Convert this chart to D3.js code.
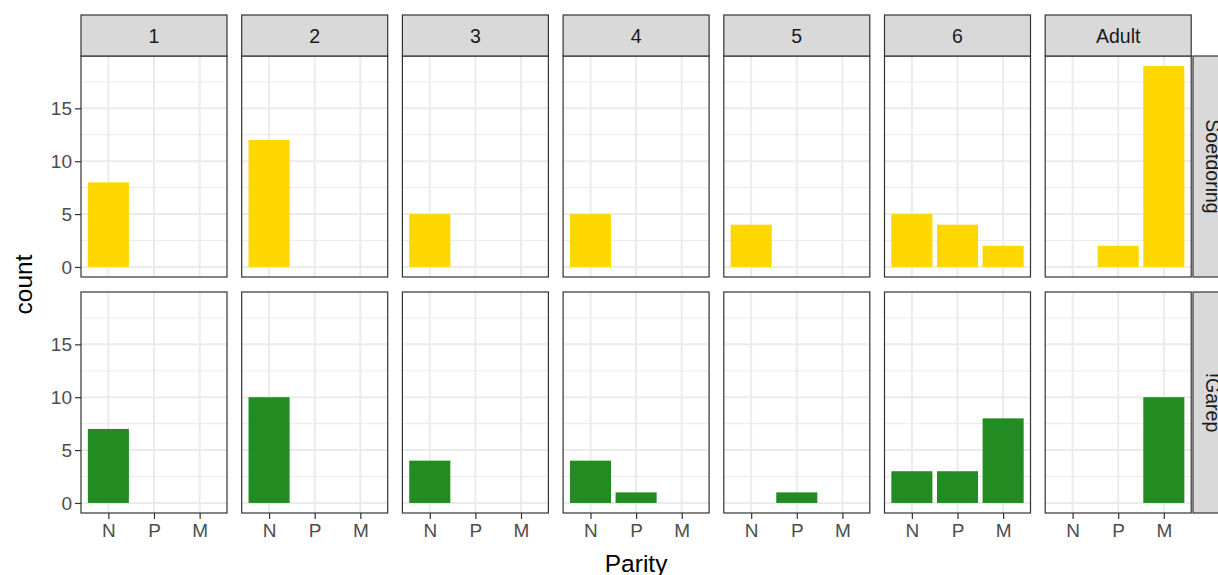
<!DOCTYPE html>
<html><head><meta charset="utf-8">
<script src="https://cdn.jsdelivr.net/npm/d3@7"></script>
<style>body{margin:0;background:#fff;} svg{display:block;font-family:"Liberation Sans",Arial,sans-serif;}</style>
</head><body>
<svg id="c" width="1218" height="575"></svg>
<script>
const ages = ["1","2","3","4","5","6","Adult"];
const sites = ["Soetdoring","!Garep"];
const parity = ["N","P","M"];
const siteColors = ["#FFD700","#228B22"];
// counts[site][age] = [N,P,M]
const soetdoring = [[8,0,0],[12,0,0],[5,0,0],[5,0,0],[4,0,0],[5,4,2],[0,2,19]];
const garep = [[7,0,0],[10,0,0],[4,0,0],[4,1,0],[0,1,0],[3,3,8],[0,0,10]];
const counts = [soetdoring, garep];
const yTicks = [0,5,10,15];
const yMinor = [2.5,7.5,12.5,17.5];

const svg = d3.select("#c");
const panelX0 = 81, panelW = 146, gapX = 14.7;
const stripTop = 15, stripH = 41;
const rowTops = [56, 292], panelH = 221;
const rightStripX = 1193, rightStripW = 41;
const tickFont = 19, stripFont = 19.5, titleFont = 24.5;

const yMax = 19;
// ggplot discrete: positions 1..3, limits 0.4..3.6
const xc = d3.scaleLinear().domain([0.4, 3.6]).range([0, panelW]);
const pos = d => parity.indexOf(d) + 1;
const y = d3.scaleLinear().domain([-0.05*yMax, yMax*1.05]).range([panelH, 0]);

sites.forEach((site, r) => {
  ages.forEach((age, c) => {
    const px = panelX0 + c*(panelW + gapX);
    const g = svg.append("g").attr("transform", `translate(${px},${rowTops[r]})`);
    g.append("rect").attr("width", panelW).attr("height", panelH).attr("fill", "#fff");
    yMinor.forEach(v => g.append("line").attr("x1",0).attr("x2",panelW).attr("y1",y(v)).attr("y2",y(v)).attr("stroke","#EBEBEB").attr("stroke-width",1));
    yTicks.forEach(v => g.append("line").attr("x1",0).attr("x2",panelW).attr("y1",y(v)).attr("y2",y(v)).attr("stroke","#EBEBEB").attr("stroke-width",2));
    parity.forEach(p => g.append("line").attr("x1",xc(pos(p))).attr("x2",xc(pos(p))).attr("y1",0).attr("y2",panelH).attr("stroke","#EBEBEB").attr("stroke-width",2));
    counts[r][c].forEach((v, i) => {
      if (v <= 0) return;
      const p = parity[i];
      g.append("rect")
        .attr("x", xc(pos(p) - 0.45)).attr("width", xc(pos(p)+0.45) - xc(pos(p)-0.45))
        .attr("y", y(v)).attr("height", y(0) - y(v))
        .attr("fill", siteColors[r]);
    });
    g.append("rect").attr("width", panelW).attr("height", panelH).attr("fill","none").attr("stroke","#333").attr("stroke-width",1.2);
    if (r === 0) {
      const s = svg.append("g").attr("transform", `translate(${px},${stripTop})`);
      s.append("rect").attr("width", panelW).attr("height", stripH).attr("fill","#D9D9D9").attr("stroke","#333").attr("stroke-width",1.2);
      s.append("text").attr("x", panelW/2).attr("y", stripH/2).attr("dy","0.36em").attr("text-anchor","middle")
        .attr("font-size",stripFont).attr("fill","#1A1A1A").text(age);
    }
    if (c === 0) {
      const ax = d3.axisLeft(y).tickValues(yTicks).tickSize(6).tickPadding(3);
      const ag = svg.append("g").attr("transform", `translate(${px},${rowTops[r]})`).call(ax);
      ag.select(".domain").remove();
      ag.selectAll(".tick line").attr("stroke","#333").attr("stroke-width",1.2);
      ag.selectAll(".tick text").attr("font-size",tickFont).attr("fill","#4D4D4D");
    }
    if (r === 1) {
      const ax = d3.axisBottom(xc).tickValues([1,2,3]).tickFormat(d => parity[d-1]).tickSize(6).tickPadding(5);
      const ag = svg.append("g").attr("transform", `translate(${px},${rowTops[r]+panelH})`).call(ax);
      ag.select(".domain").remove();
      ag.selectAll(".tick line").attr("stroke","#333").attr("stroke-width",1.2);
      ag.selectAll(".tick text").attr("font-size",tickFont).attr("fill","#4D4D4D");
    }
  });
  const s = svg.append("g").attr("transform", `translate(${rightStripX},${rowTops[r]})`);
  s.append("rect").attr("width", rightStripW).attr("height", panelH).attr("fill","#D9D9D9").attr("stroke","#333").attr("stroke-width",1.2);
  s.append("text").attr("transform", `translate(${rightStripW/2},${panelH/2}) rotate(90)`).attr("dy","0.36em")
    .attr("text-anchor","middle").attr("font-size",stripFont).attr("fill","#1A1A1A").text(site);
});

const totalW = 7*panelW + 6*gapX;
svg.append("text").attr("x", panelX0 + totalW/2).attr("y", 572).attr("text-anchor","middle")
  .attr("font-size",titleFont).attr("fill","#000").text("Parity");
svg.append("text").attr("transform", `translate(31.5,${(rowTops[0] + rowTops[1]+panelH)/2}) rotate(-90)`)
  .attr("text-anchor","middle").attr("font-size",titleFont).attr("fill","#000").text("count");
</script>
</body></html>
